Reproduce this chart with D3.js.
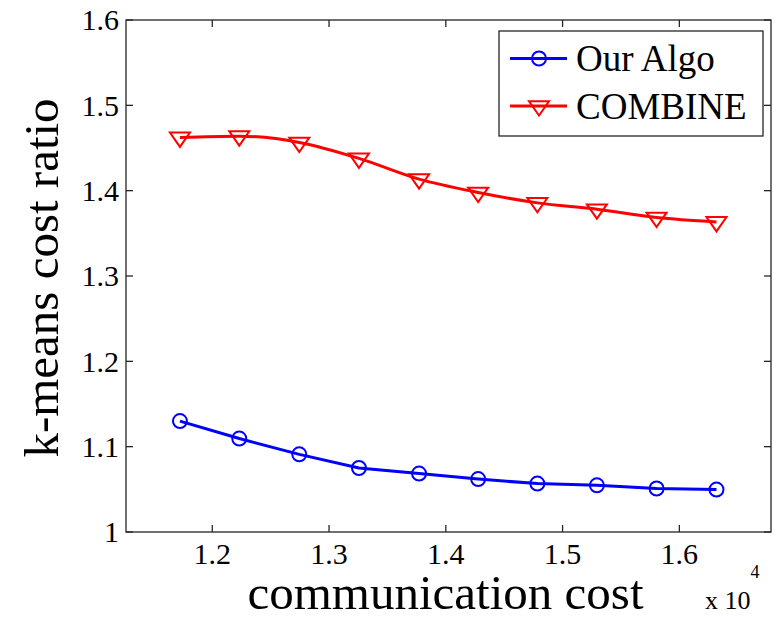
<!DOCTYPE html>
<html>
<head>
<meta charset="utf-8">
<script src="https://cdn.jsdelivr.net/npm/d3@7"></script>
<style>
  body { margin: 0; background: #fff; }
</style>
</head>
<body>
<div id="chart"></div>
<script>
// communication cost (x 10^4)
const commCost = [1.1723, 1.2231, 1.2745, 1.3256, 1.3771, 1.4277, 1.4784, 1.5294, 1.5805, 1.6318];
const ourAlgo = [1.130, 1.1095, 1.091, 1.075, 1.0685, 1.062, 1.0567, 1.0547, 1.051, 1.0497];
const combine = [1.4624, 1.4639, 1.4565, 1.4378, 1.4135, 1.3979, 1.3857, 1.3783, 1.3686, 1.3634];
const xTicks = [1.2, 1.3, 1.4, 1.5, 1.6];
const yTicks = [1, 1.1, 1.2, 1.3, 1.4, 1.5, 1.6];

const W = 783, H = 619;
const margin = { top: 20, right: 12, bottom: 87, left: 126 };
const width = W - margin.left - margin.right;
const height = H - margin.top - margin.bottom;
const serif = "'Liberation Serif', 'Times New Roman', serif";

const svg = d3.select("#chart").append("svg")
  .attr("width", W)
  .attr("height", H)
  .attr("font-family", serif);

const g = svg.append("g")
  .attr("transform", `translate(${margin.left},${margin.top})`);

const x = d3.scaleLinear().domain([1.1261, 1.6785]).range([0, width]);
const y = d3.scaleLinear().domain([1, 1.6]).range([height, 0]);

const axisColor = "#262626";
const tickLen = 7;

// box
g.append("rect")
  .attr("width", width)
  .attr("height", height)
  .attr("fill", "none")
  .attr("stroke", axisColor)
  .attr("stroke-width", 1.3);

// inward ticks on all four sides
xTicks.forEach(t => {
  g.append("line").attr("x1", x(t)).attr("x2", x(t)).attr("y1", height).attr("y2", height - tickLen)
    .attr("stroke", axisColor).attr("stroke-width", 1.3);
  g.append("line").attr("x1", x(t)).attr("x2", x(t)).attr("y1", 0).attr("y2", tickLen)
    .attr("stroke", axisColor).attr("stroke-width", 1.3);
  g.append("text")
    .attr("x", x(t))
    .attr("y", height + 32)
    .attr("text-anchor", "middle")
    .attr("font-family", serif)
    .style("font-size", "30px")
    .text(d3.format(".1f")(t));
});

yTicks.forEach(t => {
  g.append("line").attr("x1", 0).attr("x2", tickLen).attr("y1", y(t)).attr("y2", y(t))
    .attr("stroke", axisColor).attr("stroke-width", 1.3);
  g.append("line").attr("x1", width).attr("x2", width - tickLen).attr("y1", y(t)).attr("y2", y(t))
    .attr("stroke", axisColor).attr("stroke-width", 1.3);
  g.append("text")
    .attr("x", -7)
    .attr("y", y(t))
    .attr("dy", "0.34em")
    .attr("text-anchor", "end")
    .attr("font-family", serif)
    .style("font-size", "30px")
    .text(t === 1 ? "1" : d3.format(".1f")(t));
});

// axis labels
g.append("text")
  .attr("x", width / 2 - 3)
  .attr("y", height + 77)
  .attr("text-anchor", "middle")
  .attr("font-family", serif)
  .style("font-size", "49px")
  .text("communication cost");

const expo = g.append("text")
  .attr("x", 579)
  .attr("y", height + 77)
  .attr("font-family", serif)
  .style("font-size", "26px");
expo.append("tspan").text("x 10");
expo.append("tspan").attr("dy", -31).style("font-size", "18px").text("4");

g.append("text")
  .attr("transform", `translate(${58 - margin.left},${height / 2 + 2}) rotate(-90)`)
  .attr("text-anchor", "middle")
  .attr("font-family", serif)
  .style("font-size", "49px")
  .text("k-means cost ratio");

// series
const pts = vals => vals.map((v, i) => [commCost[i], v]);

const line = d3.line().x(d => x(d[0])).y(d => y(d[1]));
const smooth = d3.line().x(d => x(d[0])).y(d => y(d[1])).curve(d3.curveMonotoneX);

const triPath = "M-10,-4.8L10,-4.8L0,9.5Z";

g.append("path")
  .datum(pts(ourAlgo))
  .attr("d", line)
  .attr("fill", "none")
  .attr("stroke", "#0000ff")
  .attr("stroke-width", 3);

g.selectAll("circle.our")
  .data(pts(ourAlgo))
  .enter()
  .append("circle")
  .attr("class", "our")
  .attr("cx", d => x(d[0]))
  .attr("cy", d => y(d[1]))
  .attr("r", 7)
  .attr("fill", "none")
  .attr("stroke", "#0000ff")
  .attr("stroke-width", 2);

g.append("path")
  .datum(pts(combine))
  .attr("d", smooth)
  .attr("fill", "none")
  .attr("stroke", "#ff0000")
  .attr("stroke-width", 3);

g.selectAll("path.comb")
  .data(pts(combine))
  .enter()
  .append("path")
  .attr("class", "comb")
  .attr("transform", d => `translate(${x(d[0])},${y(d[1])})`)
  .attr("d", triPath)
  .attr("fill", "none")
  .attr("stroke", "#ff0000")
  .attr("stroke-width", 2);

// legend
const legend = svg.append("g").attr("transform", "translate(499,31)");

legend.append("rect")
  .attr("width", 264)
  .attr("height", 105)
  .attr("fill", "#fff")
  .attr("stroke", axisColor)
  .attr("stroke-width", 1.3);

const legendItems = [
  { name: "Our Algo", color: "#0000ff", marker: "circle" },
  { name: "COMBINE", color: "#ff0000", marker: "tri" }
];

legendItems.forEach((d, i) => {
  const ly = 27.5 + i * 47.5;
  legend.append("line")
    .attr("x1", 11).attr("x2", 68).attr("y1", ly).attr("y2", ly)
    .attr("stroke", d.color).attr("stroke-width", 3);
  if (d.marker === "circle") {
    legend.append("circle")
      .attr("cx", 40).attr("cy", ly).attr("r", 7)
      .attr("fill", "none").attr("stroke", d.color).attr("stroke-width", 2);
  } else {
    legend.append("path")
      .attr("transform", `translate(40,${ly})`)
      .attr("d", triPath)
      .attr("fill", "none").attr("stroke", d.color).attr("stroke-width", 2);
  }
  legend.append("text")
    .attr("x", 77)
    .attr("y", ly + 12.5)
    .attr("font-family", serif)
    .style("font-size", "37px")
    .text(d.name);
});
</script>
</body>
</html>
